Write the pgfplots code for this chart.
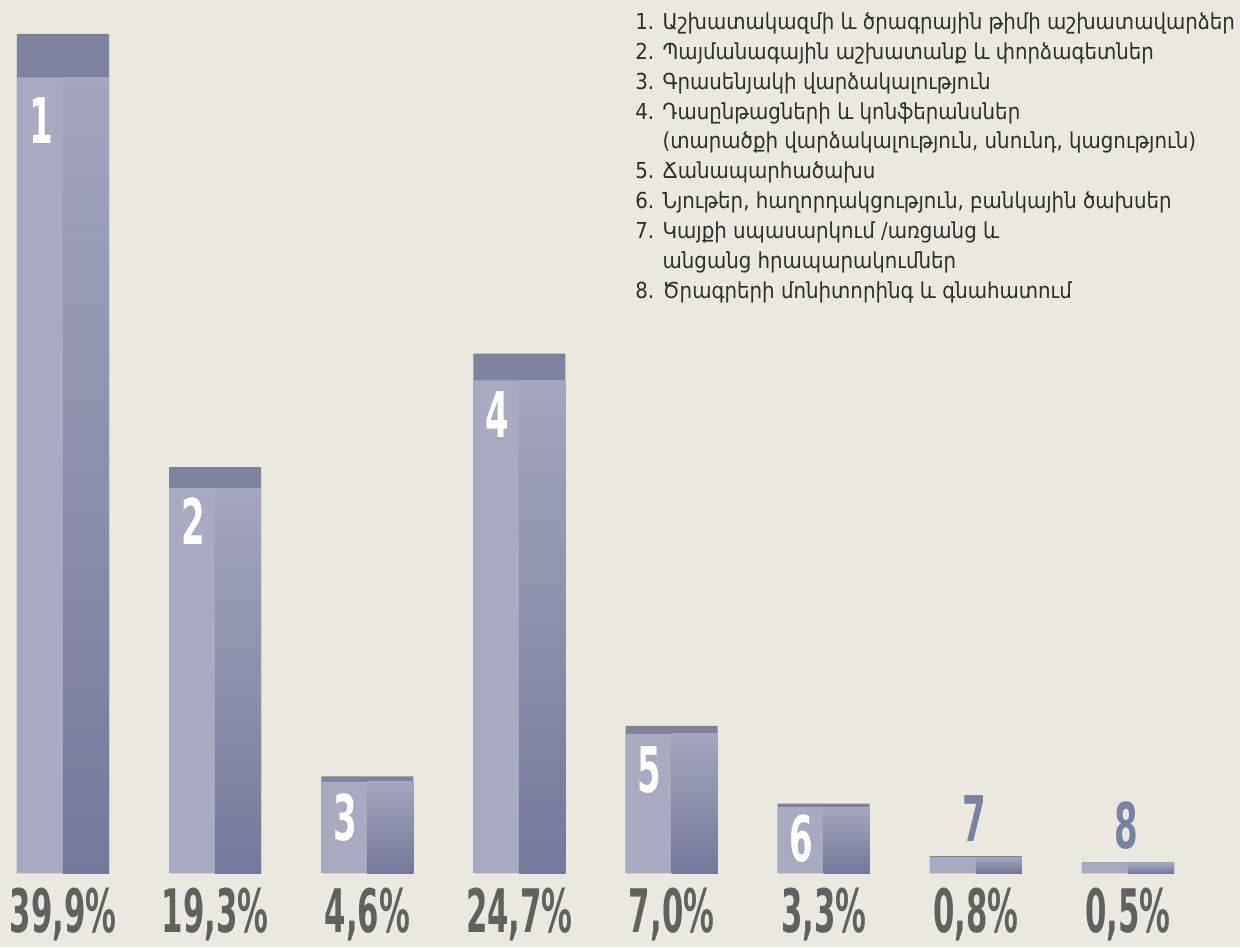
\documentclass[border=0pt]{standalone}
\usepackage{fontspec}
\usepackage{pgfplots}
\pgfplotsset{compat=1.18}
\usepackage{pgfplotstable}
\newfontfamily\numfont{DejaVu Sans Condensed}[FakeStretch=0.6]
\newfontfamily\pctfont{DejaVu Sans Condensed}[FakeStretch=0.57]
\newfontfamily\armfont{DejaVu Sans Condensed}
\definecolor{bg}{HTML}{EBE8DF}
\definecolor{lefth}{HTML}{A7AAC1}
\definecolor{capc}{HTML}{7E829F}
\definecolor{rtop}{HTML}{A3A6BD}
\definecolor{rbot}{HTML}{75799A}
\definecolor{pctc}{HTML}{616161}
\definecolor{legc}{HTML}{2E2E2E}
\definecolor{slate}{HTML}{7882A2}

\pgfplotstableread{
x v body lab off
0 39.9 37.83 1 10
1 19.3 18.30 2 4.5
2 4.6 4.33 3 5.5
3 24.7 23.42 4 5.5
4 7.0 6.62 5 6
5 3.3 3.13 6 3.5
6 0.8 0.76 7 7
7 0.5 0.47 8 6.5
}\data

\begin{document}
\begin{tikzpicture}
\path[use as bounding box, fill=bg] (0,0) rectangle (620pt,473.5pt);
\begin{axis}[
  at={(0pt,37pt)}, anchor=south west,
  scale only axis, width=620pt, height=436.5pt,
  xmin=-0.41409, xmax=7.7363, ymin=0, ymax=41.512,
  axis line style={draw=none}, major tick length=0pt,
  ytick=\empty,
  xtick={0,1,2,3,4,5,6,7},
  xticklabels={{39,9\%},{19,3\%},{4,6\%},{24,7\%},{7,0\%},{3,3\%},{0,8\%},{0,5\%}},
  xticklabel style={anchor=base, yshift=-29.6pt, inner sep=0pt, text=pctc,
    font=\pctfont\bfseries\fontsize{30}{31}\selectfont},
  clip=false,
]
\addplot[ybar, bar width=0.605, bar shift=0, draw=none, fill=capc] table[x=x,y=v]{\data};
\addplot[ybar, bar width=0.3025, bar shift=-0.15125, draw=none, fill=lefth] table[x=x,y=body]{\data};
\pgfplotsinvokeforeach{0,1,2,3,4,5,6,7}{
\addplot[ybar, bar width=0.3025, bar shift=0.15125, draw=none, top color=rtop, bottom color=rbot,
  restrict x to domain=#1:#1] table[x=x,y=body]{\data};
}
\addplot[ybar, bar width=0.3025, bar shift=-0.15125, draw=none, fill=none,
  restrict x to domain=0:5, point meta=explicit symbolic,
  visualization depends on={\thisrow{off} \as \off},
  nodes near coords,
  every node near coord/.append style={anchor=north, xshift=-11pt, yshift=-\off pt, inner sep=0pt, text=white,
    font=\numfont\bfseries\fontsize{31.5}{32}\selectfont}]
  table[x=x,y=body,meta=lab]{\data};
\addplot[ybar, bar width=0.605, bar shift=0, draw=none, fill=none,
  restrict x to domain=6:7, point meta=explicit symbolic,
  visualization depends on={\thisrow{off} \as \off},
  nodes near coords,
  every node near coord/.append style={anchor=south, xshift=-1pt, yshift=\off pt, inner sep=0pt, text=slate,
    font=\numfont\bfseries\fontsize{31.5}{32}\selectfont}]
  table[x=x,y=v,meta=lab]{\data};
\end{axis}
\begin{scope}[every node/.style={anchor=base west, inner sep=0pt, text=legc, font=\armfont\fontsize{11}{13}\selectfont}]
\node at (317.5pt,458.75pt) {1. Աշխատակազմի և ծրագրային թիմի աշխատավարձեր};
\node at (317.5pt,443.8pt) {2. Պայմանագային աշխատանք և փորձագետներ};
\node at (317.5pt,428.9pt) {3. Գրասենյակի վարձակալություն};
\node at (317.5pt,413.98pt) {4. Դասընթացների և կոնֆերանսներ};
\node at (317.5pt,399.05pt) {\hphantom{4. }(տարածքի վարձակալություն, սնունդ, կացություն)};
\node at (317.5pt,384.1pt) {5. Ճանապարհածախս};
\node at (317.5pt,369.2pt) {6. Նյութեր, հաղորդակցություն, բանկային ծախսեր};
\node at (317.5pt,354.3pt) {7. Կայքի սպասարկում /առցանց և};
\node at (317.5pt,339.35pt) {\hphantom{7. }անցանց հրապարակումներ};
\node at (317.5pt,324.4pt) {8. Ծրագրերի մոնիտորինգ և գնահատում};
\end{scope}
\end{tikzpicture}
\end{document}
